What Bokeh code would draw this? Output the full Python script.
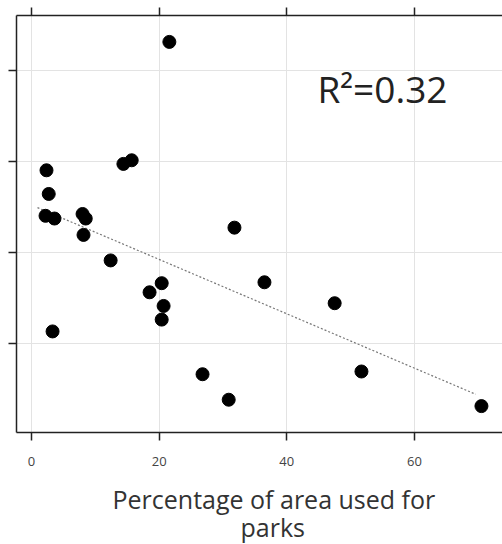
from bokeh.plotting import figure
from bokeh.models import LinearAxis, FixedTicker, Title, Label, Range1d
from bokeh.embed import file_html
from bokeh.resources import INLINE

# data
park_pct = [21.6, 2.35, 2.7, 14.4, 15.7, 2.2, 3.6, 8.0, 8.5, 8.15, 12.4, 20.4,
            18.5, 20.7, 20.4, 3.3, 26.8, 30.9, 31.8, 36.5, 47.5, 51.7, 70.5]
outcome = [4.31, 2.90, 2.64, 2.97, 3.01, 2.40, 2.37, 2.42, 2.37, 2.19, 1.91, 1.66,
           1.56, 1.41, 1.26, 1.13, 0.66, 0.38, 2.27, 1.67, 1.44, 0.69, 0.31]
fit_x = [0.94, 69.6]
fit_y = [2.49, 0.44]
x_ticks = [0, 20, 40, 60]
y_ticks = [1, 2, 3, 4]
r2_text = "R²=0.32"
xlabel_line1 = "Percentage of area used for"
xlabel_line2 = "parks"

p = figure(width=502, height=544, output_backend="svg", toolbar_location=None,
           x_range=Range1d(-2.35, 73.8), y_range=Range1d(0.02, 4.6),
           x_axis_location=None, y_axis_location=None,
           min_border_left=16, min_border_right=0, min_border_top=15, min_border_bottom=112)
p.outline_line_color = None
p.background_fill_color = "white"
p.border_fill_color = "white"

axis_color = "#222222"
blank = {t: "" for t in x_ticks}
blank_y = {t: "" for t in y_ticks}

xb = LinearAxis(ticker=FixedTicker(ticks=x_ticks))
xb.axis_line_color = axis_color
xb.axis_line_width = 1.5
xb.major_tick_line_color = axis_color
xb.major_tick_line_width = 1.5
xb.major_tick_out = 8
xb.major_tick_in = 0
xb.minor_tick_line_color = None
xb.major_label_text_font = "Open Sans"
xb.major_label_text_font_size = "13px"
xb.major_label_text_color = "#444444"
xb.major_label_standoff = 16
p.add_layout(xb, "below")

xt = LinearAxis(ticker=FixedTicker(ticks=x_ticks))
xt.axis_line_color = axis_color
xt.axis_line_width = 1.5
xt.major_tick_line_color = axis_color
xt.major_tick_line_width = 1.5
xt.major_tick_out = 8
xt.major_tick_in = 0
xt.minor_tick_line_color = None
xt.major_label_overrides = blank
xt.major_label_standoff = 0
p.add_layout(xt, "above")

yl = LinearAxis(ticker=FixedTicker(ticks=y_ticks))
yl.axis_line_color = axis_color
yl.axis_line_width = 1.5
yl.major_tick_line_color = axis_color
yl.major_tick_line_width = 1.5
yl.major_tick_out = 8
yl.major_tick_in = 0
yl.minor_tick_line_color = None
yl.major_label_overrides = blank_y
yl.major_label_standoff = 0
p.add_layout(yl, "left")

p.xgrid.ticker = FixedTicker(ticks=x_ticks)
p.ygrid.ticker = FixedTicker(ticks=y_ticks)
p.grid.grid_line_color = "#e3e3e3"
p.grid.grid_line_width = 1

p.line(fit_x, fit_y, line_color="#777777", line_width=1.2, line_dash="2 2")
p.scatter(park_pct, outcome, size=13, fill_color="black", line_color="black")

p.add_layout(Label(x=44.8, y=3.80, text=r2_text, text_font="Open Sans",
                   text_font_size="37px", text_color="#222222",
                   text_baseline="alphabetic", text_align="left"))

t1 = Title(text=xlabel_line1, align="left", offset=96, text_font="Open Sans",
           text_font_size="25px", text_font_style="normal", text_color="#333333",
           standoff=22)
t2 = Title(text=xlabel_line2, align="left", offset=224, text_font="Open Sans",
           text_font_size="25px", text_font_style="normal", text_color="#333333",
           standoff=-34, vertical_align="top")
p.add_layout(t1, "below")
p.add_layout(t2, "below")

open("out.html", "w").write(file_html(p, INLINE))
